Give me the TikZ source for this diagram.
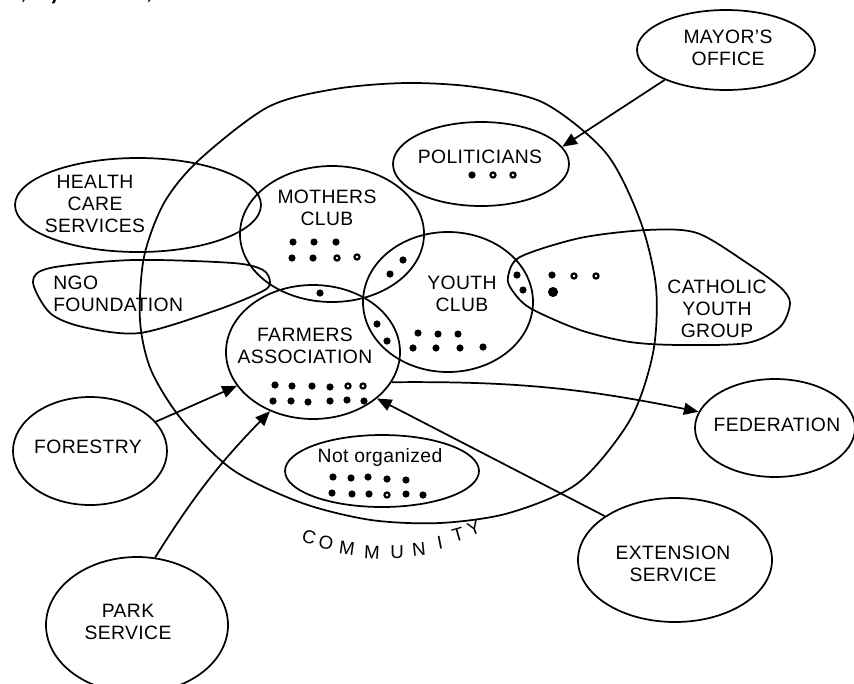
\documentclass[tikz,border=0pt]{standalone}
\usepackage{fontspec}
\setmainfont{Liberation Sans}[LetterSpace=2]
\newfontfamily\topfont{Carlito}
\usetikzlibrary{shapes.geometric,arrows.meta}
\begin{document}
\begin{tikzpicture}[x=0.75pt,y=-0.75pt,
  org/.style={draw, ellipse, line width=1.3pt, inner sep=0pt},
  txt/.style={font=\fontsize{14.5}{16.5}\selectfont, align=center, inner sep=0pt},
  blob/.style={line width=1.3pt},
  link/.style={line width=1.3pt, -{Triangle[length=11pt,width=9pt]}},
  cl/.style={font=\fontsize{14}{16}\selectfont, inner sep=0pt}]
\useasboundingbox (0,0) rectangle (854,683);
\clip (0,0) rectangle (854,683);

% top cropped caption
\node[anchor=base west, font=\topfont\fontsize{25}{25}\selectfont, inner sep=0pt] (toptext) at (-1,-2) {ls, symbols, etc.};

% community boundary
\draw[blob] plot[smooth cycle] coordinates {(406,83) (475,87) (544,103) (606,153) (640,220) (656,287) (653,353) (630,420) (578,483) (509,513) (440,523) (371,520) (302,503) (233,470) (182,420) (151,370) (140,320) (144,257) (164,203) (199,160) (268,107) (335,89)};

% organisations
\node[org, minimum width=133.5pt, minimum height=60pt] (mayor) at (726,50) {};
\node[org, minimum width=132pt, minimum height=63pt] (politicians) at (481,164) {};
\node[org, minimum width=184.5pt, minimum height=70.5pt] (health) at (138,205) {};
\node[org, minimum width=138pt, minimum height=102pt] (mothers) at (332,234) {};
\node[org, minimum width=127.5pt, minimum height=105pt] (youth) at (448,302) {};
\node[org, minimum width=130.5pt, minimum height=100.5pt] (farmers) at (313,352) {};
\node[org, minimum width=120pt, minimum height=73.5pt] (federation) at (775,428) {};
\node[org, minimum width=145.5pt, minimum height=93pt] (extension) at (675,560) {};
\node[org, minimum width=115.5pt, minimum height=81pt] (forestry) at (90,451) {};
\node[org, minimum width=136.5pt, minimum height=102pt] (park) at (137,625) {};
\node[org, minimum width=145.5pt, minimum height=54pt] (notorg) at (382,471) {};

% blobs
\draw[blob] plot[smooth cycle] coordinates {(33,282) (50,268) (133,260) (233,263) (263,270) (270,282) (263,291) (217,310) (140,333) (83,327) (50,313)};
\draw[blob] plot[smooth cycle] coordinates {(508,277) (520,257) (580,238) (647,230) (697,233) (747,263) (780,287) (790,303) (780,327) (747,343) (680,345) (630,342) (580,330) (530,308) (512,290)};

% labels
\node[txt] (mayorT) at (728,48) {MAYOR'S\\OFFICE};
\node[txt] (politiciansT) at (480,157) {POLITICIANS};
\node[txt] (healthT) at (95,204) {HEALTH\\CARE\\SERVICES};
\node[txt, align=left, anchor=west] (ngoT) at (53,294) {NGO\\FOUNDATION};
\node[txt] (mothersT) at (327,207.5) {MOTHERS\\CLUB};
\node[txt] (youthT) at (462,294) {YOUTH\\CLUB};
\node[txt] (farmersT) at (305,346) {FARMERS\\ASSOCIATION};
\node[txt] (catholicT) at (717,309) {CATHOLIC\\YOUTH\\GROUP};
\node[txt] (federationT) at (777,425) {FEDERATION};
\node[txt] (extensionT) at (673,564) {EXTENSION\\SERVICE};
\node[txt] (forestryT) at (88,447) {FORESTRY};
\node[txt] (parkT) at (128,622) {PARK\\SERVICE};
\node[txt] (notorgT) at (380,457) {Not organized};

% members (dots)
\foreach \p in {(472,175),(293,242),(314,242),(336,242),(292,258),(313,258),
  (320,293),(403,260),(390,274),(377,324),(387,341),
  (418,333),(438,334),(458,334),(413,348),(436,348),(460,348),(483,347),
  (517,275),(523,290),(552,275),
  (275,385),(292,386),(312,386),(330,387),(273,401),(291,401),(308,402),(330,401),(347,400),(364,401),
  (333,477),(351,478),(368,477),(387,479),(406,480),(332,493),(352,494),(369,494),(406,494),(423,495)}
  \fill \p circle[radius=2.7pt];
\foreach \p in {(493,175),(513,175),(337,258),(357,257),(574,276),(596,276),(348,386),(363,386),(387,495)}
  {\fill \p circle[radius=2.8pt]; \fill[white] \p circle[radius=1pt];}
\fill (553,292) circle[radius=3.8pt];

% links
\draw[link] (mayor.206) -- (politicians.12);
\draw[link] (farmers.-21) to[bend left=6] (federation.168);
\draw[link] (forestry.24) -- (farmers.204);
\draw[link] (park.75) to[bend left=6] (farmers.234);
\draw[link] (extension.148) -- (farmers.-36);

% COMMUNITY lettering
\node[cl, rotate=-16] (c1) at (309,537) {C};
\node[cl, rotate=-12] (c2) at (326,543) {O};
\node[cl, rotate=-8] (c3) at (347,548) {M};
\node[cl, rotate=-3] (c4) at (372,552) {M};
\node[cl, rotate=0] (c5) at (397,552) {U};
\node[cl, rotate=6] (c6) at (419,549) {N};
\node[cl, rotate=11] (c7) at (440,543) {I};
\node[cl, rotate=16] (c8) at (458,535) {T};
\node[cl, rotate=21] (c9) at (474,528) {Y};
\end{tikzpicture}
\end{document}
